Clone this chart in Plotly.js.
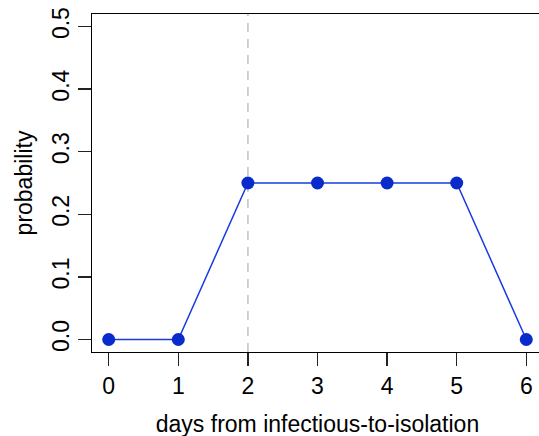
<!DOCTYPE html>
<html>
<head>
<meta charset="utf-8">
<script src="https://cdn.plot.ly/plotly-3.0.1.min.js"></script>
<style>
html,body{margin:0;padding:0;overflow:hidden;background:#fff;}
#chart{width:543px;height:442px;}
</style>
</head>
<body>
<div id="chart"></div>
<script>
const days = [0, 1, 2, 3, 4, 5, 6];
const probability = [0, 0, 0.25, 0.25, 0.25, 0.25, 0];
const xTicks = [0, 1, 2, 3, 4, 5, 6];
const yTicks = [0.0, 0.1, 0.2, 0.3, 0.4, 0.5];
const yTickLabels = ["0.0", "0.1", "0.2", "0.3", "0.4", "0.5"];
const markerDay = 2;
const xTitle = "days from infectious-to-isolation";
const yTitle = "probability";

const FONT = '"Liberation Sans", Arial, Helvetica, sans-serif';

const trace = {
  x: days,
  y: probability,
  type: 'scatter',
  mode: 'lines+markers',
  line: {color: '#1a3be0', width: 1.5},
  marker: {color: '#0a2bcb', size: 13},
  hoverinfo: 'x+y',
  showlegend: false
};

const layout = {
  width: 543,
  height: 442,
  margin: {l: 92, r: 0, t: 14, b: 90, pad: 0},
  paper_bgcolor: '#ffffff',
  plot_bgcolor: '#ffffff',
  font: {family: FONT, size: 23, color: '#000'},
  xaxis: {
    range: [-0.24, 6.24],
    tickvals: xTicks,
    ticktext: xTicks.map(String),
    ticks: 'outside',
    ticklen: 13,
    tickwidth: 1.3,
    tickcolor: '#222',
    showline: true,
    linecolor: '#000',
    linewidth: 1.3,
    mirror: true,
    showgrid: false,
    zeroline: false,
    tickfont: {family: FONT, size: 23, color: '#000'},
    title: {text: xTitle, font: {family: FONT, size: 23, color: '#000'}, standoff: 18}
  },
  yaxis: {
    range: [-0.02, 0.52],
    tickvals: yTicks,
    ticktext: yTickLabels,
    tickangle: -90,
    ticks: 'outside',
    ticklen: 13,
    tickwidth: 1.3,
    tickcolor: '#222',
    showline: true,
    linecolor: '#000',
    linewidth: 1.3,
    mirror: true,
    showgrid: false,
    zeroline: false,
    tickfont: {family: FONT, size: 23, color: '#000'},
    title: {text: yTitle, font: {family: FONT, size: 23, color: '#000'}, standoff: 8}
  },
  shapes: [{
    type: 'line',
    xref: 'x', yref: 'paper',
    x0: markerDay, x1: markerDay, y0: 0, y1: 1,
    line: {color: '#cccccc', width: 1.8, dash: '9px,7px'},
    layer: 'below'
  }]
};

Plotly.newPlot('chart', [trace], layout, {displayModeBar: false, staticPlot: true});
</script>
</body>
</html>
